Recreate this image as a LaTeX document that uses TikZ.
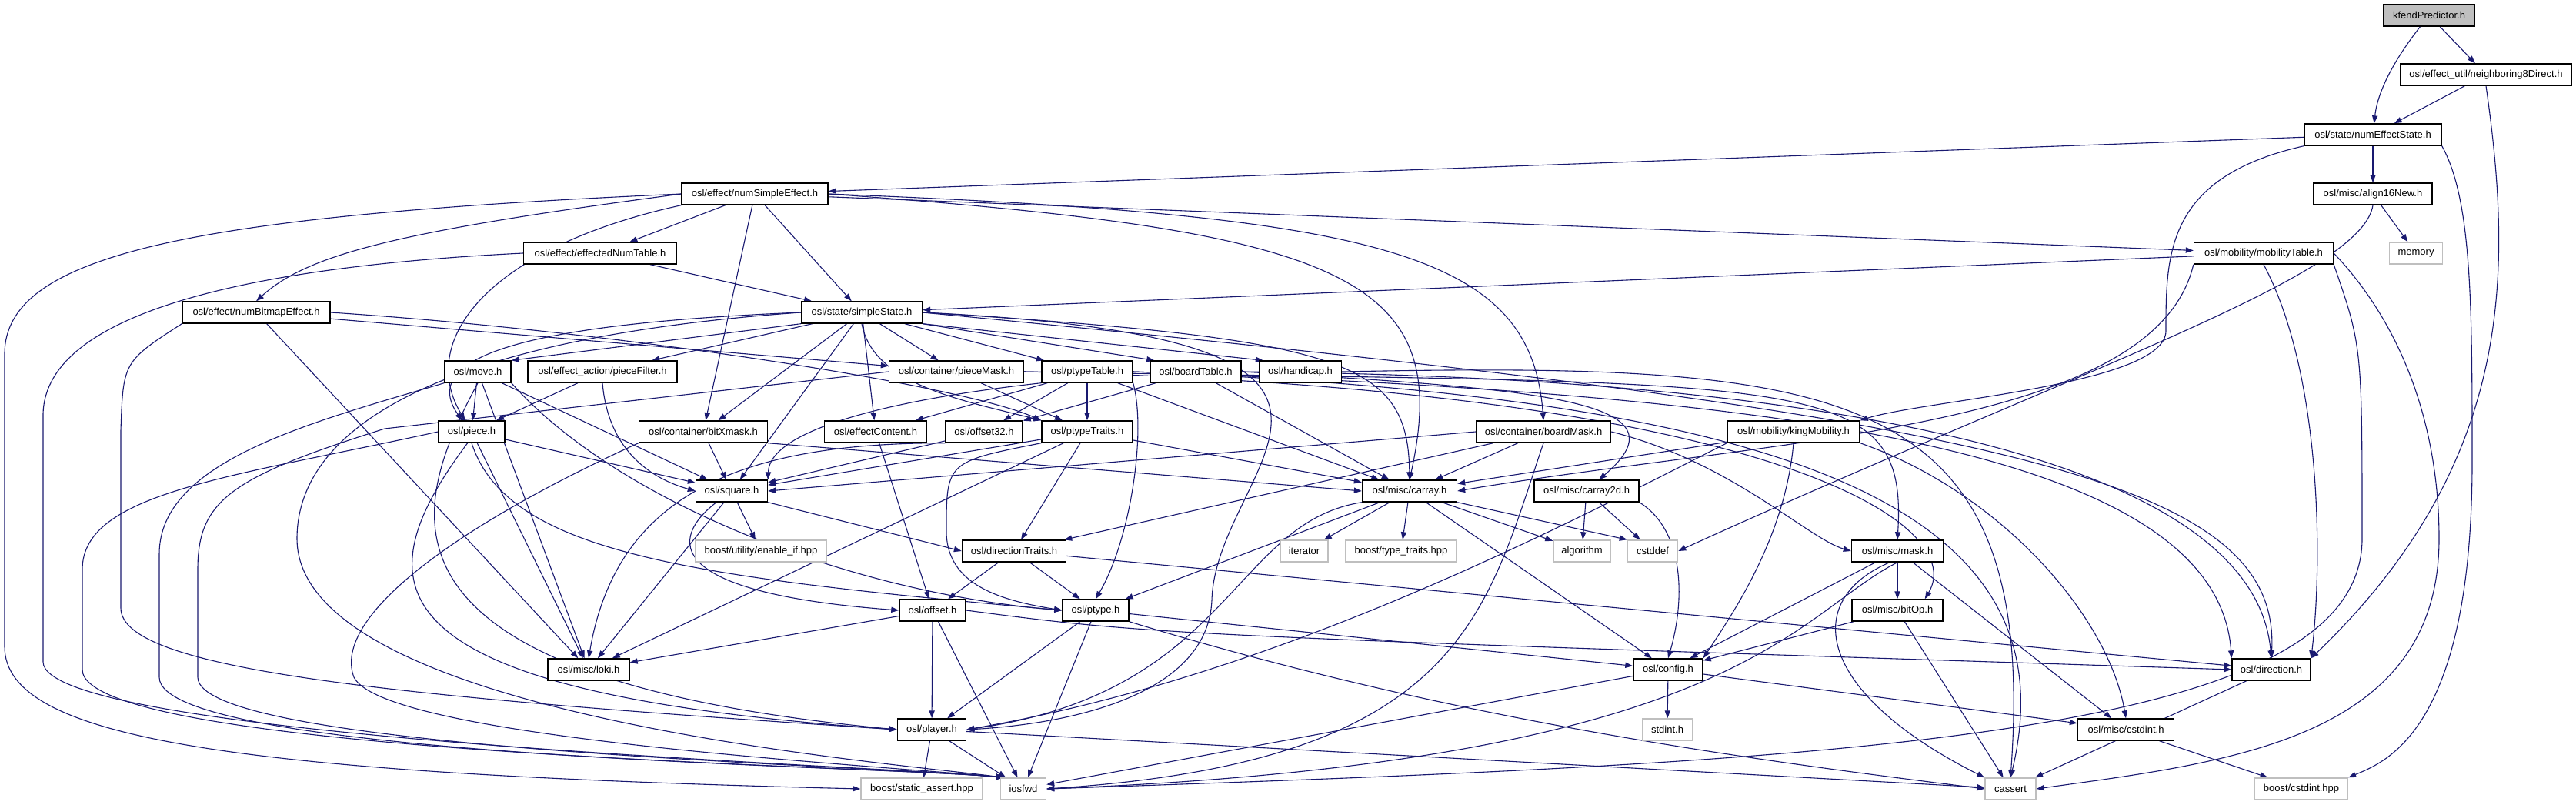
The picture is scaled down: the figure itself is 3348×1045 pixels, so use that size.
\documentclass[tikz,border=0pt]{standalone}
\usepackage{fontspec}
\setmainfont{Liberation Sans}
\usetikzlibrary{arrows.meta}
\definecolor{edgeblue}{HTML}{191970}
\definecolor{extgray}{HTML}{BFBFBF}
\pgfdeclarelayer{paper}
\pgfdeclarelayer{edges}
\pgfsetlayers{paper,edges,main}
\begin{document}
\begin{tikzpicture}[x=0.5pt,y=-0.5pt,
  box/.style={draw=black, line width=0.7pt, fill=white, minimum height=14pt, inner sep=0pt, font=\fontsize{6.5}{7}\selectfont},
  extbox/.style={box, draw=extgray},
  rootbox/.style={box, fill=extgray},
  dep/.style={draw=edgeblue, line width=0.55pt, -{Triangle[length=5pt,width=3.6pt]}},
]
\begin{pgfonlayer}{paper}
\fill[white] (0,0) rectangle (3348,1045);
\end{pgfonlayer}
\useasboundingbox (0,0) rectangle (3348,1045);
% nodes
\node[rootbox, minimum width=59pt] (kfend) at (3157,20) {kfendPredictor.h};
\node[box, minimum width=111pt] (n8d) at (3231,97) {osl/effect\_util/neighboring8Direct.h};
\node[box, minimum width=89pt] (nes) at (3084,175) {osl/state/numEffectState.h};
\node[box, minimum width=95pt] (nse) at (981,252) {osl/effect/numSimpleEffect.h};
\node[box, minimum width=77pt] (a16) at (3084,252) {osl/misc/align16New.h};
\node[box, minimum width=99.5pt] (ent) at (780,329) {osl/effect/effectedNumTable.h};
\node[box, minimum width=90.5pt] (mob) at (2942,329) {osl/mobility/mobilityTable.h};
\node[extbox, minimum width=34.5pt] (mem) at (3140,329) {memory};
\node[box, minimum width=96pt] (nbe) at (333,406) {osl/effect/numBitmapEffect.h};
\node[box, minimum width=78.5pt] (ss) at (1120,406) {osl/state/simpleState.h};
\node[box, minimum width=43pt] (move) at (621,483) {osl/move.h};
\node[box, minimum width=97pt] (pf) at (783,483) {osl/effect\_action/pieceFilter.h};
\node[box, minimum width=87.5pt] (pm) at (1243,483) {osl/container/pieceMask.h};
\node[box, minimum width=59pt] (ptt) at (1413,483) {osl/ptypeTable.h};
\node[box, minimum width=59pt] (bt) at (1554,483) {osl/boardTable.h};
\node[box, minimum width=53.5pt] (hc) at (1690,483) {osl/handicap.h};
\node[box, minimum width=43pt] (piece) at (613,561) {osl/piece.h};
\node[box, minimum width=83.5pt] (bx) at (914,561) {osl/container/bitXmask.h};
\node[box, minimum width=66.5pt] (ec) at (1138,561) {osl/effectContent.h};
\node[box, minimum width=50pt] (o32) at (1279,561) {osl/offset32.h};
\node[box, minimum width=59pt] (ptr) at (1413,561) {osl/ptypeTraits.h};
\node[box, minimum width=87.5pt] (bm) at (2006,561) {osl/container/boardMask.h};
\node[box, minimum width=86pt] (km) at (2331,561) {osl/mobility/kingMobility.h};
\node[box, minimum width=46.5pt] (sq) at (951,638) {osl/square.h};
\node[box, minimum width=61.5pt] (ca) at (1832,638) {osl/misc/carray.h};
\node[box, minimum width=68pt] (ca2) at (2062,638) {osl/misc/carray2d.h};
\node[extbox, minimum width=85pt] (ei) at (989,716) {boost/utility/enable\_if.hpp};
\node[box, minimum width=67.5pt] (dt) at (1318,716) {osl/directionTraits.h};
\node[extbox, minimum width=31pt] (it) at (1695,716) {iterator};
\node[extbox, minimum width=72pt] (tt) at (1821,716) {boost/type\_traits.hpp};
\node[extbox, minimum width=37pt] (alg) at (2056,716) {algorithm};
\node[extbox, minimum width=32.5pt] (cd) at (2148,716) {cstddef};
\node[box, minimum width=59.5pt] (mask) at (2466,716) {osl/misc/mask.h};
\node[box, minimum width=43pt] (off) at (1212,793) {osl/offset.h};
\node[box, minimum width=43pt] (pt) at (1424,793) {osl/ptype.h};
\node[box, minimum width=59pt] (bo) at (2466,793) {osl/misc/bitOp.h};
\node[box, minimum width=53pt] (loki) at (765,870) {osl/misc/loki.h};
\node[box, minimum width=45pt] (cfg) at (2168,870) {osl/config.h};
\node[box, minimum width=51pt] (dir) at (2952,870) {osl/direction.h};
\node[box, minimum width=44.5pt] (pl) at (1211,948) {osl/player.h};
\node[extbox, minimum width=32.5pt] (si) at (2167,948) {stdint.h};
\node[box, minimum width=62.5pt] (mcs) at (2763,948) {osl/misc/cstdint.h};
\node[extbox, minimum width=79pt] (sa) at (1198,1025) {boost/static\_assert.hpp};
\node[extbox, minimum width=29.5pt] (io) at (1330,1025) {iosfwd};
\node[extbox, minimum width=33pt] (cas) at (2613,1025) {cassert};
\node[extbox, minimum width=60.5pt] (bci) at (2991,1025) {boost/cstdint.hpp};

\begin{pgfonlayer}{edges}
\draw[dep] (kfend) .. controls (3110,80) and (3090,120) .. (nes);
\draw[dep] (kfend) -- (n8d);
\draw[dep] (n8d) -- (nes);
\draw[dep] (n8d.south) .. controls (3265,350) and (3270,600) .. (dir.north east);
\draw[dep] (nes) -- (nse);
\draw[dep] (nes) -- (a16);
\draw[dep] (nes.south west) .. controls (2815,230) and (2815,330) .. (2815,430) .. controls (2815,500) and (2500,520) .. (km.north east);
\draw[dep] (nes.south east) .. controls (3213,260) and (3213,400) .. (3213,600) .. controls (3213,950) and (3100,990) .. (bci.north east);
\draw[dep] (a16) -- (mem);
\draw[dep] (a16.south) .. controls (3070,360) and (2700,480) .. (cd.east);
% numSimpleEffect
\draw[dep] (nse) -- (ent);
\draw[dep] (nse.west) .. controls (520,300) and (400,330) .. (nbe.north);
\draw[dep] (nse.west) .. controls (250,280) and (6,330) .. (6,460) -- (6,840) .. controls (6,960) and (300,1005) .. (sa.west);
\draw[dep] (nse.south west) .. controls (640,320) and (540,440) .. (piece.120);
\draw[dep] (nse) -- (bx);
\draw[dep] (nse) -- (ss);
\draw[dep] (nse) -- (mob);
\draw[dep] (nse.east) .. controls (1800,280) and (1990,330) .. (bm.north);
\draw[dep] (nse.east) .. controls (1750,300) and (1890,360) .. (ca.north);
% effectedNumTable
\draw[dep] (ent) -- (ss);
\draw[dep] (ent.west) .. controls (350,345) and (56,400) .. (56,540) -- (56,860) .. controls (56,960) and (1150,995) .. (io.150);
% mobilityTable
\draw[dep] (mob) -- (ss);
\draw[dep] (mob.south west) .. controls (2800,560) and (2300,570) .. (ca.east);
\draw[dep] (mob.south) .. controls (3015,480) and (3020,720) .. (dir.north east);
\draw[dep] (mob.south east) .. controls (3070,450) .. (3070,700) .. controls (3070,960) and (2400,990) .. (io.east);
\draw[dep] (mob.east) .. controls (3120,420) and (3170,550) .. (3170,700) .. controls (3170,960) and (2900,990) .. (cas.east);
% numBitmapEffect
\draw[dep] (nbe) -- (pm);
\draw[dep] (nbe.east) .. controls (800,430) and (1250,500) .. (ptr.north west);
\draw[dep] (nbe) -- (loki);
\draw[dep] (nbe.south west) .. controls (160,470) .. (157,560) -- (157,790) .. controls (157,870) and (500,905) .. (pl.west);
% simpleState
\draw[dep] (ss.south west) -- (move.north east);
\draw[dep] (ss) -- (pf);
\draw[dep] (ss.west) .. controls (700,420) and (540,460) .. (piece.130);
\draw[dep] (ss) -- (bx);
\draw[dep] (ss) -- (ec);
\draw[dep] (ss) -- (pm);
\draw[dep] (ss) -- (ptt);
\draw[dep] (ss.south east) -- ([xshift=3pt]bt.north west);
\draw[dep] (ss.south east) -- ([xshift=3pt]hc.north west);
\draw[dep] (ss.south) .. controls (1135,500) and (1250,520) .. (ptr.north west);
\draw[dep] (ss.east) .. controls (1750,440) and (1830,470) .. (ca.north);
\draw[dep] (ss.east) .. controls (2600,540) and (2965,620) .. (dir.north);
\draw[dep] (ss.east) .. controls (1900,440) and (1580,600) .. (1575,780) .. controls (1570,900) and (1400,940) .. (pl.east);
\draw[dep] (ss) -- (sq);
\draw[dep] (ss.west) .. controls (560,440) and (386,560) .. (386,700) .. controls (386,930) and (1150,990) .. (io.150);
% move
\draw[dep] (move) -- (piece);
\draw[dep] (move) -- (sq);
\draw[dep] (move.south east) .. controls (800,650) and (1100,770) .. (pt.west);
\draw[dep] (move) -- (loki);
\draw[dep] (move.south) .. controls (540,650) and (440,880) .. (pl.west);
\draw[dep] (move.south west) .. controls (400,550) and (207,600) .. (207,720) -- (207,880) .. controls (207,985) and (1150,995) .. (io.150);
% pieceFilter
\draw[dep] (pf) -- (piece);
\draw[dep] (pf.south) .. controls (790,580) and (840,620) .. (sq.west);
% pieceMask
\draw[dep] (pm) -- (ptr);
\draw[dep] (pm.east) .. controls (2350,500) and (2480,480) .. (mask.north);
\draw[dep] (pm.east) .. controls (2300,505) and (2560,680) .. ([xshift=-12pt]bo.north east);
\draw[dep] (pm.west) -- (500,557) .. controls (300,620) and (257,650) .. (257,740) -- (257,880) .. controls (257,975) and (1150,995) .. (io.150);
% ptypeTable
\draw[dep] (ptt) -- (ec);
\draw[dep] (ptt) -- (o32);
\draw[dep] (ptt) -- (ptr);
\draw[dep] (ptt.south west) .. controls (1150,520) and (1000,560) .. (sq.north east);
\draw[dep] (ptt.south east) .. controls (1490,560) and (1470,700) .. (pt.north);
\draw[dep] (ptt) -- (ca);
\draw[dep] (ptt.east) .. controls (2200,510) and (2880,560) .. (dir.north west);
\draw[dep] (ptt.east) .. controls (2300,515) and (2700,650) .. (cas.north);
% boardTable
\draw[dep] (bt) -- (o32);
\draw[dep] (bt) -- (ca);
\draw[dep] (bt.east) .. controls (2000,505) and (2200,520) .. ([xshift=8pt]ca2.north);
\draw[dep] (bt.east) .. controls (2400,490) and (2930,600) .. (dir.north);
% handicap
\draw[dep] (hc.east) .. controls (2400,470) and (2650,500) .. (cas.north);
% piece
\draw[dep] (piece) -- (sq);
\draw[dep] (piece.south) .. controls (660,720) and (900,750) .. (pt.west);
\draw[dep] (piece) -- (loki);
\draw[dep] (piece.250) .. controls (470,760) and (470,900) .. (pl.west);
\draw[dep] (piece.west) .. controls (300,620) and (107,640) .. (107,740) -- (107,870) .. controls (107,980) and (1150,995) .. (io.150);
% bitXmask
\draw[dep] (bx) -- (sq);
\draw[dep] (bx.south east) -- (ca.west);
\draw[dep] (bx.south west) .. controls (600,680) and (430,800) .. (460,880) .. controls (500,960) and (1150,995) .. (io.150);
% effectContent, offset32, ptypeTraits
\draw[dep] (ec) -- (off);
\draw[dep] (o32) -- (sq);
\draw[dep] (o32.south west) .. controls (950,575) and (800,650) .. (loki.north);
\draw[dep] (ptr) -- (sq);
\draw[dep] (ptr) -- (ca);
\draw[dep] (ptr) -- (dt);
\draw[dep] (ptr.south west) .. controls (1230,600) .. (1230,690) .. controls (1230,760) and (1300,780) .. (pt.west);
\draw[dep] (ptr) -- (loki);
% boardMask
\draw[dep] (bm) -- (ca);
\draw[dep] (bm.west) -- (sq.east);
\draw[dep] (bm) -- (dt);
\draw[dep] (bm.east) .. controls (2250,600) and (2350,700) .. (mask.west);
\draw[dep] (bm.south) .. controls (1930,800) and (1900,990) .. (io.east);
% kingMobility
\draw[dep] (km) -- (ca);
\draw[dep] (km.south) .. controls (2320,700) and (2250,800) .. (cfg.north east);
\draw[dep] (km.south west) .. controls (2000,700) and (1650,880) .. (pl.east);
\draw[dep] (km.south east) .. controls (2600,640) and (2740,800) .. (mcs.north);
% square
\draw[dep] (sq) -- (ei);
\draw[dep] (sq.south east) -- (dt.west);
\draw[dep] ([xshift=-10pt]sq.south) .. controls (870,700) and (860,770) .. (off.west);
\draw[dep] ([xshift=-5pt]sq.south) -- (loki);
% carray
\draw[dep] (ca) -- (it);
\draw[dep] (ca) -- (tt);
\draw[dep] (ca) -- (alg);
\draw[dep] (ca.south east) -- (cd.north west);
\draw[dep] (ca) -- (cfg);
\draw[dep] (ca) -- (pt);
\draw[dep] (ca.south west) .. controls (1600,680) and (1600,900) .. (pl.east);
% carray2d
\draw[dep] (ca2) -- (alg);
\draw[dep] (ca2) -- (cd);
\draw[dep] (ca2.south east) .. controls (2190,690) and (2190,780) .. (cfg.north);
% directionTraits
\draw[dep] (dt) -- (off);
\draw[dep] (dt) -- (pt);
\draw[dep] (dt) -- (dir);
% mask
\draw[dep] (mask) -- (bo);
\draw[dep] (mask) -- (cfg);
\draw[dep] ([xshift=-5pt]mask.south) .. controls (2340,780) and (2360,900) .. (cas.north west);
\draw[dep] ([xshift=10pt]mask.south) -- (mcs);
\draw[dep] (mask.south) .. controls (2330,800) and (2260,990) .. (io.east);
% offset
\draw[dep] (off) -- (pl);
\draw[dep] (off) -- (io);
\draw[dep] (off) -- (loki);
\draw[dep] (off.east) .. controls (1500,825) .. (dir.west);
% ptype
\draw[dep] (pt) -- (pl);
\draw[dep] (pt) -- (io);
\draw[dep] (pt) -- (cfg);
\draw[dep] (pt.south east) .. controls (1900,940) and (2300,990) .. (cas.west);
% bitOp, config, direction, player, cstdint
\draw[dep] (bo) -- (cfg);
\draw[dep] (bo) -- (cas);
\draw[dep] (cfg) -- (si);
\draw[dep] (cfg) -- (mcs);
\draw[dep] (cfg) -- (io);
\draw[dep] (dir) -- (cas);
\draw[dep] (pl) -- (sa);
\draw[dep] (pl) -- (io);
\draw[dep] (pl) -- (cas);
\draw[dep] (mcs) -- (bci);
\end{pgfonlayer}
\end{tikzpicture}
\end{document}
